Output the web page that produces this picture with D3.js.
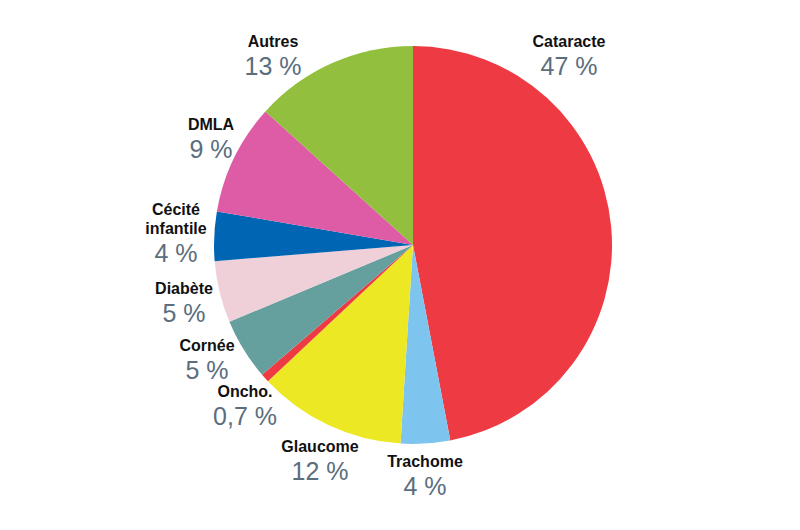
<!DOCTYPE html>
<html><head><meta charset="utf-8">
<script src="https://cdn.jsdelivr.net/npm/d3@7"></script>
<style>html,body{margin:0;padding:0;background:#fff}</style>
</head><body>
<svg id="c" width="800" height="530"></svg>
<script>
const categories = ["Cataracte","Trachome","Glaucome","Oncho.","Cornée","Diabète","Cécité infantile","DMLA","Autres"];
const values = [47, 4, 12, 0.7, 5, 5, 4, 9, 13.3];
const valueLabels = ["47 %","4 %","12 %","0,7 %","5 %","5 %","4 %","9 %","13 %"];
const colors = ["#EE3A43","#7DC4EE","#EDE824","#EE3A43","#66A09E","#EFCFD8","#0066B3","#DE5BA6","#92C03E"];
// label anchor positions (centre x, baseline y of name)
const labelPos = [[569,47],[425,467],[320,452],[245,397],[207,351],[184,294],[176,215],[211,130],[273,47]];

const svg = d3.select("#c");
const cx = 413, cy = 245, r = 199;
const pie = d3.pie().sort(null).value(d => d)(values);
const arc = d3.arc().innerRadius(0).outerRadius(r);
const g = svg.append("g").attr("transform", `translate(${cx},${cy})`);
g.selectAll("path").data(pie).join("path")
  .attr("d", arc)
  .attr("fill", (d,i) => colors[i]);

const lab = svg.append("g").attr("font-family","'Liberation Sans', Arial, sans-serif").attr("text-anchor","middle");
categories.forEach((c,i) => {
  const [x,y] = labelPos[i];
  const lines = c === "Cécité infantile" ? ["Cécité","infantile"] : [c];
  lines.forEach((l,j) => {
    lab.append("text").attr("x", x).attr("y", y + j*19)
      .attr("font-size", 16).attr("font-weight","bold").attr("fill","#111")
      .text(l);
  });
  lab.append("text").attr("x", x).attr("y", y + (lines.length-1)*19 + 28)
    .attr("font-size", 25).attr("fill","#5A6E7E")
    .text(valueLabels[i]);
});
</script>
</body></html>
